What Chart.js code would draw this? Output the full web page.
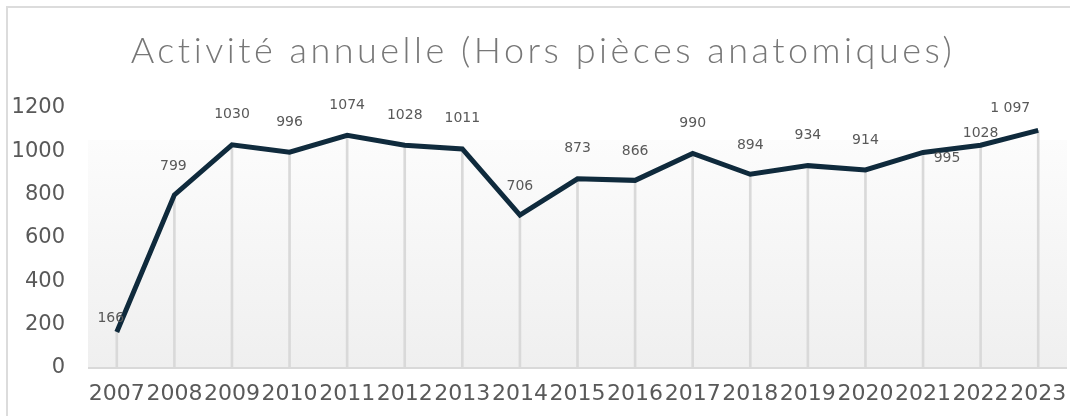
<!DOCTYPE html>
<html>
<head>
<meta charset="utf-8">
<script src="https://cdn.jsdelivr.net/npm/chart.js@4.4.1/dist/chart.umd.min.js"></script>
<style>
  html, body { margin: 0; padding: 0; background: #ffffff; }
  #wrap { position: relative; width: 1070px; height: 416px; overflow: hidden; }
  #frame { position: absolute; left: 6px; top: 6px; width: 1070px; height: 420px;
           border-left: 2px solid #dcdcdc; border-top: 2px solid #dcdcdc; box-sizing: border-box; }
  canvas { position: absolute; left: 0; top: 0; }
</style>
</head>
<body>
<div id="wrap">
  <div id="frame"></div>
  <canvas id="c" width="1070" height="416"></canvas>
</div>
<script>
const title = 'Activité annuelle (Hors pièces anatomiques)';
const years = ['2007','2008','2009','2010','2011','2012','2013','2014','2015','2016','2017','2018','2019','2020','2021','2022','2023'];
const activity = [166, 799, 1030, 996, 1074, 1028, 1011, 706, 873, 866, 990, 894, 934, 914, 995, 1028, 1097];
const valueLabels = ['166','799','1030','996','1074','1028','1011','706','873','866','990','894','934','914','995','1028','1 097'];
const yTicks = [0, 200, 400, 600, 800, 1000, 1200];

// label placement offsets (style only)
const labelDx = [-6, -1, 0, 0, 0, 0, 0, 0, 0, 0, 0, 0, 0, 0, 24, 0, -28];
const labelDy = [-14, -29, -30, -30, -30, -30, -31, -29, -30, -29, -30, -29, -30, -30, 6, -12, -22];

const TICK_FONT = '"DejaVu Sans", "Liberation Sans", sans-serif';

const bgPlugin = {
  id: 'bg',
  beforeDatasetsDraw(chart) {
    const a = chart.chartArea, ctx = chart.ctx;
    const top = a.top + 32;
    const g = ctx.createLinearGradient(0, top, 0, a.bottom);
    g.addColorStop(0, '#fcfcfc');
    g.addColorStop(1, '#efefef');
    ctx.save();
    ctx.fillStyle = g;
    ctx.fillRect(a.left, top, a.right - a.left, a.bottom - top);
    ctx.strokeStyle = '#d9d9d9';
    ctx.lineWidth = 2;
    ctx.beginPath();
    ctx.moveTo(a.left, a.bottom);
    ctx.lineTo(a.right, a.bottom);
    ctx.stroke();
    ctx.restore();
  }
};

const labelPlugin = {
  id: 'labels',
  afterDatasetsDraw(chart) {
    const ctx = chart.ctx;
    const meta = chart.getDatasetMeta(1);
    ctx.save();
    ctx.font = '14px ' + TICK_FONT;
    ctx.fillStyle = '#595959';
    ctx.textAlign = 'center';
    ctx.textBaseline = 'middle';
    meta.data.forEach((pt, i) => {
      ctx.fillText(valueLabels[i], pt.x + labelDx[i], pt.y + labelDy[i]);
    });
    ctx.restore();
  },
  afterDraw(chart) {
    const ctx = chart.ctx;
    ctx.save();
    ctx.font = '300 36px Lato, "Open Sans", sans-serif';
    try { ctx.letterSpacing = '3.5px'; } catch (e) {}
    ctx.fillStyle = '#777777';
    ctx.textAlign = 'center';
    ctx.textBaseline = 'alphabetic';
    ctx.fillText(title, 543, 63);
    ctx.restore();
  }
};

new Chart(document.getElementById('c'), {
  data: {
    labels: years,
    datasets: [
      {
        type: 'bar',
        data: activity,
        backgroundColor: '#d9d9d9',
        barThickness: 2,
        order: 2
      },
      {
        type: 'line',
        data: activity,
        borderColor: '#0f2a3c',
        borderWidth: 5,
        pointRadius: 0,
        tension: 0,
        fill: false,
        order: 1
      }
    ]
  },
  options: {
    responsive: false,
    animation: false,
    devicePixelRatio: 1,
    layout: { padding: { top: 108, right: 3, left: 0, bottom: 0 } },
    plugins: { legend: { display: false }, tooltip: { enabled: false }, title: { display: false } },
    scales: {
      x: {
        offset: true,
        grid: { display: false, drawTicks: false },
        border: { display: false },
        ticks: { color: '#595959', font: { family: TICK_FONT, size: 22 }, padding: 13, maxRotation: 0, autoSkip: false },
        afterFit(s) { s.height = 48; s.paddingLeft = 0; s.paddingRight = 0; }
      },
      y: {
        min: 0, max: 1200,
        afterBuildTicks(s) { s.ticks = yTicks.map(v => ({ value: v })); },
        grid: { display: false, drawTicks: false },
        border: { display: false },
        ticks: { color: '#595959', font: { family: TICK_FONT, size: 21 }, padding: 23, callback: v => String(v) },
        afterFit(s) { s.width = 88; s.paddingTop = 0; s.paddingBottom = 0; }
      }
    }
  },
  plugins: [bgPlugin, labelPlugin]
});
</script>
</body>
</html>
